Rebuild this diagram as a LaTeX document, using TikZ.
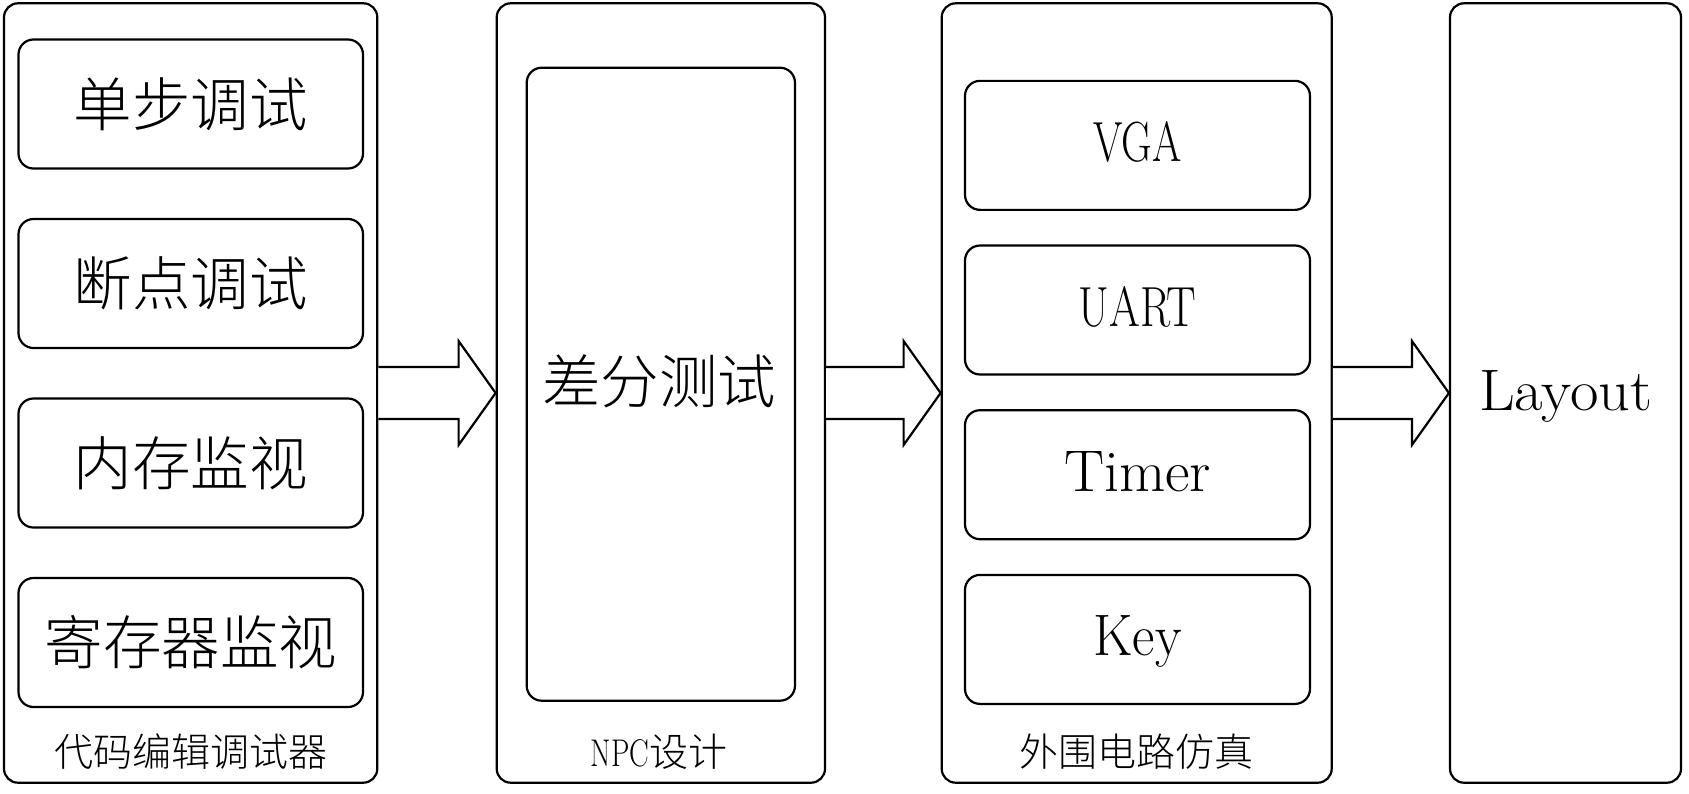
\documentclass[tikz,border=0pt]{standalone}
\usepackage{fontspec}
\usepackage{graphicx}
\newfontfamily\cjk{Noto Sans CJK SC}[UprightFont={* Light}]
\usetikzlibrary{calc}
\newcommand\lat[3]{\resizebox{#1pt}{#2pt}{\rmfamily #3}}
\newcommand\fatarrow[2]{%
  \path (#1.east) coordinate (s) (#2.west) coordinate (t);
  \draw[fatarr] ($(s)+(0,-26)$) -- ($(t)+(-37,-26)$) -- ($(t)+(-37,-52)$) -- (t)
    -- ($(t)+(-37,52)$) -- ($(t)+(-37,26)$) -- ($(s)+(0,26)$);}
\begin{document}
\begin{tikzpicture}[x=1pt,y=-1pt,line width=2.2pt,
  outerbox/.style={draw,rounded corners=14pt,inner sep=0pt,minimum width=#1,minimum height=779.4pt},
  innerbox/.style={draw,rounded corners=15pt,inner sep=0pt,minimum width=#1,minimum height=129pt,
    font=\cjk\fontsize{58.5}{70}\selectfont},
  bigcn/.style={font=\cjk\fontsize{58.5}{70}\selectfont,inner sep=0pt},
  labelcn/.style={font=\cjk\fontsize{39}{47}\selectfont,inner sep=0pt},
  lattext/.style={anchor=base,inner sep=0pt,font=\fontsize{58.5}{70}\selectfont},
  fatarr/.style={draw,fill=white,line join=miter}]
\useasboundingbox (0,0) rectangle (1689,793);
% outer columns
\node[outerbox=373.3pt] (c1) at (190.65,393) {};
\node[outerbox=328.3pt] (c2) at (660.85,393) {};
\node[outerbox=390pt]   (c3) at (1136.7,393) {};
\node[outerbox=231pt]   (c4) at (1565.5,393) {};
% column 1
\node[innerbox=344.5pt] (a1) at (190.75,104)   {单步调试};
\node[innerbox=344.5pt] (a2) at (190.75,283.5) {断点调试};
\node[innerbox=344.5pt] (a3) at (190.75,463)   {内存监视};
\node[innerbox=344.5pt] (a4) at (190.75,642.5) {寄存器监视};
\node[labelcn] (l1) at (190.75,751.5) {代码编辑调试器};
% column 2
\node[draw,rounded corners=15pt,inner sep=0pt,minimum width=268.3pt,minimum height=633pt] (b1) at (660.85,384.2) {};
\node[bigcn] (bt) at (659,381) {差分测试};
\node[labelcn] (l2) at (659,751.5) {{\fontsize{39}{47}\selectfont\lat{58.5}{27}{NPC}}设计};
% column 3
\node[innerbox=345pt] (d1) at (1137.5,145.35) {};
\node[innerbox=345pt] (d2) at (1137.5,310)    {};
\node[innerbox=345pt] (d3) at (1137.5,474.7)  {};
\node[innerbox=345pt] (d4) at (1137.5,639.4)  {};
\node[lattext] (t1) at ($(d1.center)+(0,16.5)$) {\lat{88.2}{40}{VGA}};
\node[lattext] (t2) at ($(d2.center)+(0,16.5)$) {\lat{117.6}{40}{UART}};
\node[lattext] (t3) at ($(d3.center)+(0,16.5)$) {\lat{147}{40}{Timer}};
\node[lattext] (t4) at ($(d4.center)+(0,16.5)$) {\lat{88.2}{40}{Key}};
\node[labelcn] (l3) at (1136.7,751.5) {外围电路仿真};
% column 4
\node[lattext] (t5) at ($(c4.center)+(0,17.5)$) {\lat{173}{40}{Layout}};
% arrows
\fatarrow{c1}{c2}
\fatarrow{c2}{c3}
\fatarrow{c3}{c4}
\end{tikzpicture}
\end{document}
